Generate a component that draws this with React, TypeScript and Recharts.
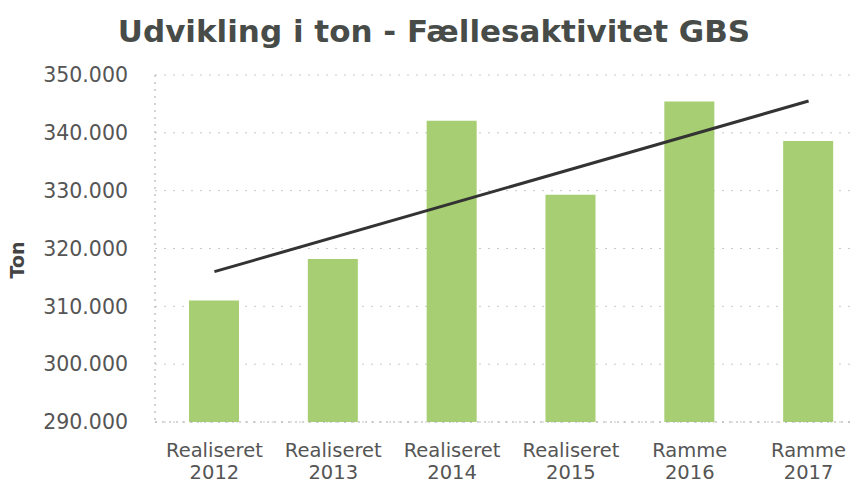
import React from "react";
import {
  ComposedChart,
  Bar,
  Line,
  XAxis,
  YAxis,
  CartesianGrid,
  Label,
} from "recharts";

// category labels (two lines each)
const labelKinds = ["Realiseret", "Realiseret", "Realiseret", "Realiseret", "Ramme", "Ramme"];
const labelYears = ["2012", "2013", "2014", "2015", "2016", "2017"];

// tons per year
const tons = [311000, 318200, 342100, 329300, 345400, 338600];

// linear trend line, only the two ends are drawn
const trend = [316000, null, null, null, null, 345500];

const yTicks = [290000, 300000, 310000, 320000, 330000, 340000, 350000];

const data = labelYears.map((year, i) => ({
  name: `${labelKinds[i]} ${year}`,
  ton: tons[i],
  trend: trend[i],
}));

const fmt = (v: number) => v.toLocaleString("de-DE");

const CategoryTick = (props: any) => {
  const { x, y, index } = props;
  return (
    <g>
      <text
        x={x}
        y={y + 27}
        textAnchor="middle"
        fill="#555"
        fontSize={19.5}
        fontFamily="DejaVu Sans"
      >
        {labelKinds[index]}
      </text>
      <text
        x={x}
        y={y + 49}
        textAnchor="middle"
        fill="#555"
        fontSize={19.5}
        fontFamily="DejaVu Sans"
      >
        {labelYears[index]}
      </text>
    </g>
  );
};

const App = () => {
  return (
    <div
      style={{
        position: "fixed",
        left: 0,
        top: 0,
        width: 853,
        height: 484,
        overflow: "hidden",
        background: "#fff",
      }}
    >
      <div
        style={{
          position: "absolute",
          left: 0,
          top: 13,
          width: 868,
          textAlign: "center",
          fontFamily: "DejaVu Sans",
          fontWeight: "bold",
          fontSize: 31,
          lineHeight: "36px",
          color: "#484c48",
        }}
      >
        Udvikling i ton - Fællesaktivitet GBS
      </div>
      <ComposedChart
        width={882}
        height={484}
        data={data}
        margin={{ top: 75, right: 14, bottom: 0, left: 2 }}
      >
        <CartesianGrid
          vertical={false}
          stroke="#c8c8c8"
          strokeDasharray="2 7"
        />
        <XAxis
          dataKey="name"
          height={62}
          tickLine={false}
          axisLine={{ stroke: "#aaa", strokeDasharray: "2 5" }}
          tick={<CategoryTick />}
          interval={0}
        />
        <YAxis
          width={153}
          domain={[290000, 350000]}
          ticks={yTicks}
          tickFormatter={fmt}
          tickLine={false}
          tickSize={0}
          tickMargin={27}
          axisLine={{ stroke: "#aaa", strokeDasharray: "2 5" }}
          tick={{ fill: "#555", fontSize: 20.5, fontFamily: "DejaVu Sans" }}
          allowDataOverflow
        >
          <Label
            content={() => (
              <text
                transform="translate(24,260) rotate(-90)"
                textAnchor="middle"
                fill="#444"
                fontSize={19}
                fontWeight="bold"
                fontFamily="DejaVu Sans"
              >
                Ton
              </text>
            )}
          />
        </YAxis>
        <Bar
          dataKey="ton"
          barSize={50}
          fill="#a7ce72"
          isAnimationActive={false}
        />
        <Line
          dataKey="trend"
          stroke="#333"
          strokeWidth={3}
          dot={false}
          connectNulls
          isAnimationActive={false}
        />
      </ComposedChart>
    </div>
  );
};

export default App;
